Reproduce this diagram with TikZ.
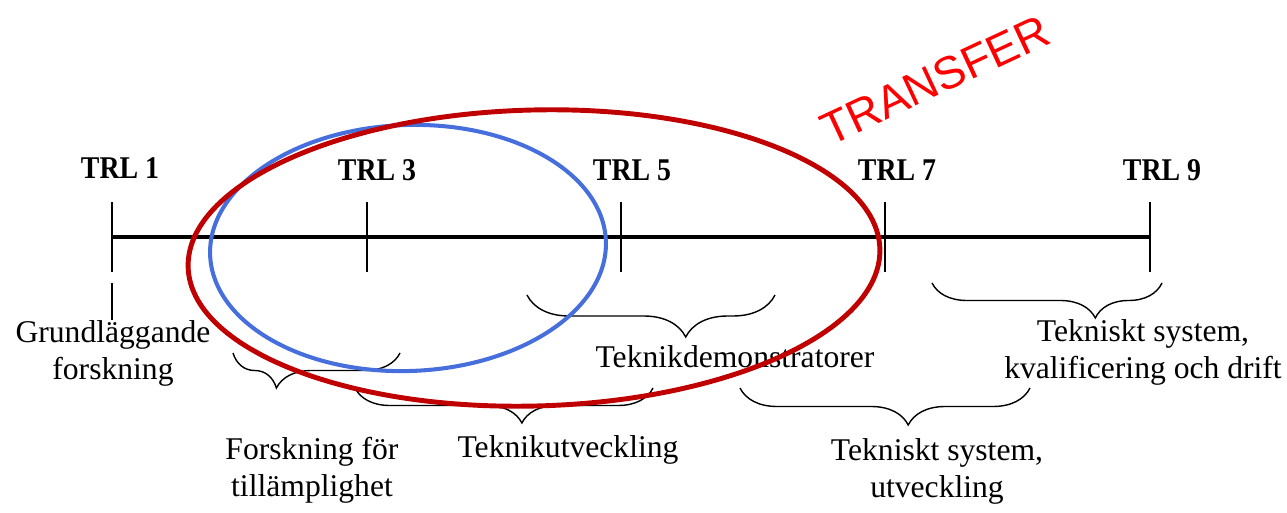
\documentclass[tikz,border=0pt]{standalone}
\usepackage{fontspec}
\setmainfont{Liberation Serif}
\newfontfamily\trlfont[FakeStretch=0.88]{Liberation Serif}
\newfontfamily\transferfont{Liberation Sans}
\usetikzlibrary{decorations.pathreplacing}
\definecolor{ringred}{RGB}{192,0,0}
\definecolor{ringblue}{RGB}{70,110,220}
\begin{document}
\begin{tikzpicture}[x=0.02cm,y=-0.02cm,
	trl/.style={font=\trlfont\bfseries\fontsize{18}{20}\selectfont},
	lbl/.style={font=\fontsize{18}{21}\selectfont,align=center,inner sep=0pt},
	tick/.style={line width=1.1pt},
	brc/.style 2 args={decorate,decoration={brace,mirror,amplitude=#1,aspect=#2},line width=0.8pt}]
	\useasboundingbox (0,0) rectangle (1287,513);
	%\draw[step=50,very thin,color=gray] (0,0) grid (1287,513);
	\draw[line width=2.2pt] (112,237) -- (1150,237);
	\draw[tick] (112,202) -- (112,272);
	\draw[tick] (112,283) -- (112,320);
	\draw[tick] (367,202) -- (367,272);
	\draw[tick] (621,202) -- (621,272);
	\draw[tick] (885,202) -- (885,272);
	\draw[tick] (1150,202) -- (1150,272);
	\node[trl] (trl1) at (120,168) {TRL 1};
	\node[trl] (trl3) at (377,170) {TRL 3};
	\node[trl] (trl5) at (632,170) {TRL 5};
	\node[trl] (trl7) at (897,170) {TRL 7};
	\node[trl] (trl9) at (1162,170) {TRL 9};
	% braces
	\coordinate (fa) at (233,353); \coordinate (fb) at (400,353);
	\coordinate (ua) at (355,388); \coordinate (ub) at (653,388);
	\coordinate (da) at (527,295); \coordinate (db) at (775,295);
	\coordinate (sa) at (740,388); \coordinate (sb) at (1030,388);
	\coordinate (ka) at (932,283); \coordinate (kb) at (1162,283);
	\draw[brc={0.7cm}{0.26}] (fa) -- (fb);
	\draw[brc={0.7cm}{0.56}] (ua) -- (ub);
	\draw[brc={0.84cm}{0.64}] (da) -- (db);
	\draw[brc={0.74cm}{0.58}] (sa) -- (sb);
	\draw[brc={0.7cm}{0.71}] (ka) -- (kb);
	\node[lbl] (grund) at (113,353) {Grundläggande\\forskning};
	\node[lbl] (tillamp) at (312,470) {Forskning för\\tillämplighet};
	\node[lbl] (utv) at (568,450) {Teknikutveckling};
	\node[lbl] (demo) at (735,357) {Teknikdemonstratorer};
	\node[lbl] (sysutv) at (937,471) {Tekniskt system,\\utveckling};
	\node[lbl] (sysdrift) at (1143,352) {Tekniskt system,\\kvalificering och drift};
	% rings
	\draw[ringblue,line width=2.3pt,rotate around={2:(408,248)}] (408,248) ellipse [x radius=198,y radius=123];
	\draw[ringred,line width=2.8pt,rotate around={1.5:(534,258)}] (534,258) ellipse [x radius=346,y radius=148];
	\node[red,rotate=25,font=\transferfont\fontsize{26}{28}\selectfont] (transfer) at (935,80) {TRANSFER};
\end{tikzpicture}
\end{document}
